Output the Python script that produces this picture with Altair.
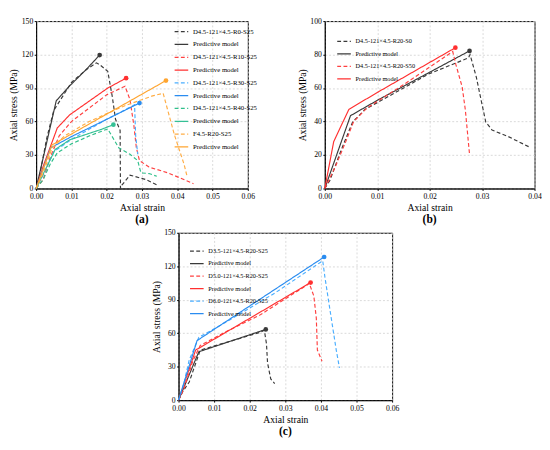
import altair as alt
import pandas as pd

FONT = "Liberation Serif"

# ---------- Panel (a) ----------
a_names = ["D4.5-121×4.5-R0-S25", "Predictive model|1",
           "D4.5-121×4.5-R10-S25", "Predictive model|2",
           "D4.5-121×4.5-R30-S25", "Predictive model|3",
           "D4.5-121×4.5-R40-S25", "Predictive model|4",
           "F4.5-R20-S25", "Predictive model|5"]
a_colors = ["#3a3a3a", "#3a3a3a", "#ff4040", "#ff3030", "#4aaeff", "#2a8cf0",
            "#2fbf8a", "#35c095", "#ffad45", "#ffa530"]

a_r0_exp_x = [0, 0.001, 0.003, 0.005, 0.007, 0.01, 0.014, 0.0171, 0.018, 0.0203, 0.0216, 0.0225, 0.0238, 0.0239, 0.0243, 0.0266, 0.0311, 0.0347]
a_r0_exp_y = [0, 12, 45, 70, 80, 95, 106, 112.6, 111, 105, 82, 62, 52, 0, 3, 12, 8, 2.5]
a_r0_pre_x = [0, 0.0057, 0.0095, 0.014, 0.018]
a_r0_pre_y = [0, 78.6, 92, 106, 119.6]

a_r10_exp_x = [0, 0.002, 0.004, 0.0065, 0.01, 0.015, 0.02, 0.0252, 0.0266, 0.0277, 0.0284, 0.0293, 0.032, 0.0374, 0.0446]
a_r10_exp_y = [0, 8, 28, 47, 60, 72, 84, 91.6, 79.6, 56.6, 36.5, 25, 19.2, 14, 4.3]
a_r10_pre_x = [0, 0.002, 0.006, 0.0095, 0.0203, 0.0255]
a_r10_pre_y = [0, 20, 54.3, 66, 90, 98.9]

a_r30_exp_x = [0, 0.002, 0.005, 0.01, 0.015, 0.02, 0.0279, 0.0282, 0.0288]
a_r30_exp_y = [0, 12, 33, 44, 53, 62, 75, 48, 30.7]
a_r30_pre_x = [0, 0.0041, 0.01, 0.02, 0.0293]
a_r30_pre_y = [0, 36.4, 46.5, 62, 76.6]

a_r40_exp_x = [0, 0.002, 0.004, 0.006, 0.01, 0.015, 0.0203, 0.0234, 0.0266, 0.0288, 0.0297, 0.032, 0.0342]
a_r40_exp_y = [0, 8, 22, 32, 40, 47, 53.4, 36.5, 30.7, 25, 14, 13.4, 11]
a_r40_pre_x = [0, 0.0054, 0.0095, 0.0185, 0.0219]
a_r40_pre_y = [0, 35, 43.6, 53, 57.2]

a_f_exp_x = [0, 0.002, 0.0045, 0.008, 0.015, 0.025, 0.033, 0.036, 0.0392, 0.0419, 0.0428]
a_f_exp_y = [0, 14, 36, 47, 60, 74, 83, 85.3, 48, 22, 10.6]
a_f_pre_x = [0, 0.0045, 0.0368]
a_f_pre_y = [0, 39, 96.7]

# ---------- Panel (b) ----------
b_names = ["D4.5-121×4.5-R20-S0", "Predictive model|1",
           "D4.5-121×4.5-R20-S50", "Predictive model|2"]
b_colors = ["#3a3a3a", "#3a3a3a", "#ff4040", "#ff3030"]

b_s0_exp_x = [0, 0.001, 0.003, 0.0053, 0.0077, 0.0138, 0.0198, 0.0274, 0.0277, 0.0289, 0.0298, 0.0307, 0.0319, 0.035, 0.0392]
b_s0_exp_y = [0, 5, 22, 39.7, 47.3, 57.9, 68.4, 78, 80, 66.5, 53, 39.7, 34.9, 31, 24.5]
b_s0_pre_x = [0, 0.0049, 0.0102, 0.0276]
b_s0_pre_y = [0, 43.5, 53, 82.2]
b_s50_exp_x = [0, 0.002, 0.004, 0.0055, 0.008, 0.015, 0.0244, 0.025, 0.0262, 0.0268, 0.0276]
b_s50_exp_y = [0, 13, 28, 40, 48, 62, 81.8, 74, 60.7, 47, 20.5]
b_s50_pre_x = [0, 0.0017, 0.0038, 0.0046, 0.0102, 0.0249]
b_s50_pre_y = [0, 28, 42, 47.3, 57.7, 84.1]

# ---------- Panel (c) ----------
c_names = ["D3.5-121×4.5-R20-S25", "Predictive model|1",
           "D5.0-121×4.5-R20-S25", "Predictive model|2",
           "D6.0-121×4.5-R20-S25", "Predictive model|3"]
c_colors = ["#3a3a3a", "#3a3a3a", "#ff4040", "#ff3030", "#4aaeff", "#2a8cf0"]

c_d35_exp_x = [0, 0.0012, 0.003, 0.0061, 0.0137, 0.0227, 0.0241, 0.0247, 0.025, 0.0259, 0.027]
c_d35_exp_y = [0, 7.7, 16.3, 44.9, 52, 60.6, 62.6, 50.6, 33.4, 19, 14.9]
c_d35_pre_x = [0, 0.0057, 0.0245]
c_d35_pre_y = [0, 43.4, 63.4]
c_d50_exp_x = [0, 0.0015, 0.004, 0.0061, 0.0137, 0.0227, 0.0362, 0.0367, 0.038, 0.0387, 0.039, 0.0403]
c_d50_exp_y = [0, 10, 35, 49, 62, 76, 103.4, 104.9, 93.4, 73.4, 44.9, 34.9]
c_d50_pre_x = [0, 0.0048, 0.0371]
c_d50_pre_y = [0, 44.9, 105.4]
c_d60_exp_x = [0, 0.0015, 0.003, 0.0057, 0.0137, 0.0272, 0.0398, 0.0405, 0.0411, 0.0429, 0.0443, 0.0452]
c_d60_exp_y = [0, 15, 36, 56.3, 70.6, 96.3, 123.4, 124.9, 110.6, 73.4, 44.9, 29]
c_d60_pre_x = [0, 0.0052, 0.0409]
c_d60_pre_y = [0, 53.4, 128.3]

DASH = [4, 2.5]
SOLID = [1, 0]


def make_axis(values, title, lpad, fmt=None):
    kw = dict(values=values, title=title, labelFlush=False, labelOverlap=False,
              grid=True, gridColor="#cfcfcf", gridDash=[2, 2], gridWidth=0.8,
              labelFont=FONT, titleFont=FONT, labelFontSize=8, titleFontSize=10,
              titleFontWeight="normal", labelColor="black", titleColor="black",
              domainColor="black", tickColor="black", tickSize=2, labelPadding=lpad,
              titlePadding=2.5)
    if fmt:
        kw["format"] = fmt
    return alt.Axis(**kw)


def panel(names, colors, curves, xdom, xticks, ydom, yticks, w, h, lx, ly,
          lfs, lrow, label):
    rows, pts = [], []
    for name, color, (xs, ys) in zip(names, colors, curves):
        for i, (x, y) in enumerate(zip(xs, ys)):
            rows.append({"s": name, "x": x, "y": y, "o": i})
        if name.startswith("Predictive"):
            pts.append({"x": xs[-1], "y": ys[-1], "c": color})
    df = pd.DataFrame(rows)
    pdf = pd.DataFrame(pts)
    dashes = [SOLID if n.startswith("Predictive") else DASH for n in names]
    leg = alt.Legend(title=None, orient="none", legendX=lx, legendY=ly,
                     labelExpr="split(datum.label, '|')[0]",
                     symbolType="stroke", symbolSize=200, symbolStrokeWidth=1.3,
                     labelFont=FONT, labelFontSize=lfs, rowPadding=lrow,
                     padding=0, labelOffset=4, labelLimit=200)
    X = alt.X("x:Q", scale=alt.Scale(domain=xdom, nice=False),
              axis=make_axis(xticks, "Axial strain", 2.5, ".2f"))
    Y = alt.Y("y:Q", scale=alt.Scale(domain=ydom, nice=False),
              axis=make_axis(yticks, "Axial stress (MPa)", 1.5))
    line = alt.Chart(df).mark_line(strokeWidth=1.2).encode(
        x=X, y=Y,
        color=alt.Color("s:N", scale=alt.Scale(domain=names, range=colors), legend=leg),
        strokeDash=alt.StrokeDash("s:N", scale=alt.Scale(domain=names, range=dashes), legend=leg),
        order="o:Q",
    )
    dots = alt.Chart(pdf).mark_circle(size=24, opacity=1).encode(
        x=X, y=Y, fill=alt.Fill("c:N", scale=None)
    )
    return alt.layer(line, dots).properties(
        width=w, height=h,
        title=alt.TitleParams(label, orient="bottom", font=FONT, fontSize=12,
                              fontWeight="bold", offset=2),
    )


pa = panel(a_names, a_colors,
           [(a_r0_exp_x, a_r0_exp_y), (a_r0_pre_x, a_r0_pre_y),
            (a_r10_exp_x, a_r10_exp_y), (a_r10_pre_x, a_r10_pre_y),
            (a_r30_exp_x, a_r30_exp_y), (a_r30_pre_x, a_r30_pre_y),
            (a_r40_exp_x, a_r40_exp_y), (a_r40_pre_x, a_r40_pre_y),
            (a_f_exp_x, a_f_exp_y), (a_f_pre_x, a_f_pre_y)],
           [0, 0.06], [0, 0.01, 0.02, 0.03, 0.04, 0.05, 0.06],
           [0, 150], [0, 30, 60, 90, 120, 150], 220, 174, 143, 3, 7, 2.3, "(a)")

pb = panel(b_names, b_colors,
           [(b_s0_exp_x, b_s0_exp_y), (b_s0_pre_x, b_s0_pre_y),
            (b_s50_exp_x, b_s50_exp_y), (b_s50_pre_x, b_s50_pre_y)],
           [0, 0.04], [0, 0.01, 0.02, 0.03, 0.04],
           [0, 100], [0, 20, 40, 60, 80, 100], 218, 174, 12, 13, 6.5, 1, "(b)")

pc = panel(c_names, c_colors,
           [(c_d35_exp_x, c_d35_exp_y), (c_d35_pre_x, c_d35_pre_y),
            (c_d50_exp_x, c_d50_exp_y), (c_d50_pre_x, c_d50_pre_y),
            (c_d60_exp_x, c_d60_exp_y), (c_d60_pre_x, c_d60_pre_y)],
           [0, 0.06], [0, 0.01, 0.02, 0.03, 0.04, 0.05, 0.06],
           [0, 150], [0, 30, 60, 90, 120, 150], 222, 174, 11, 11, 6.5, 1, "(c)")

res = dict(x="independent", y="independent", color="independent",
           strokeDash="independent")
top = alt.hconcat(pa, pb, spacing=40).resolve_scale(**res)
chart = alt.vconcat(top, pc, spacing=2, center=True).resolve_scale(**res).properties(
    padding={"left": 0, "top": 0, "right": 0, "bottom": 0}
).configure_view(stroke="black", strokeWidth=1)

chart.save("out.html", embed_options={"renderer": "svg", "actions": False})
